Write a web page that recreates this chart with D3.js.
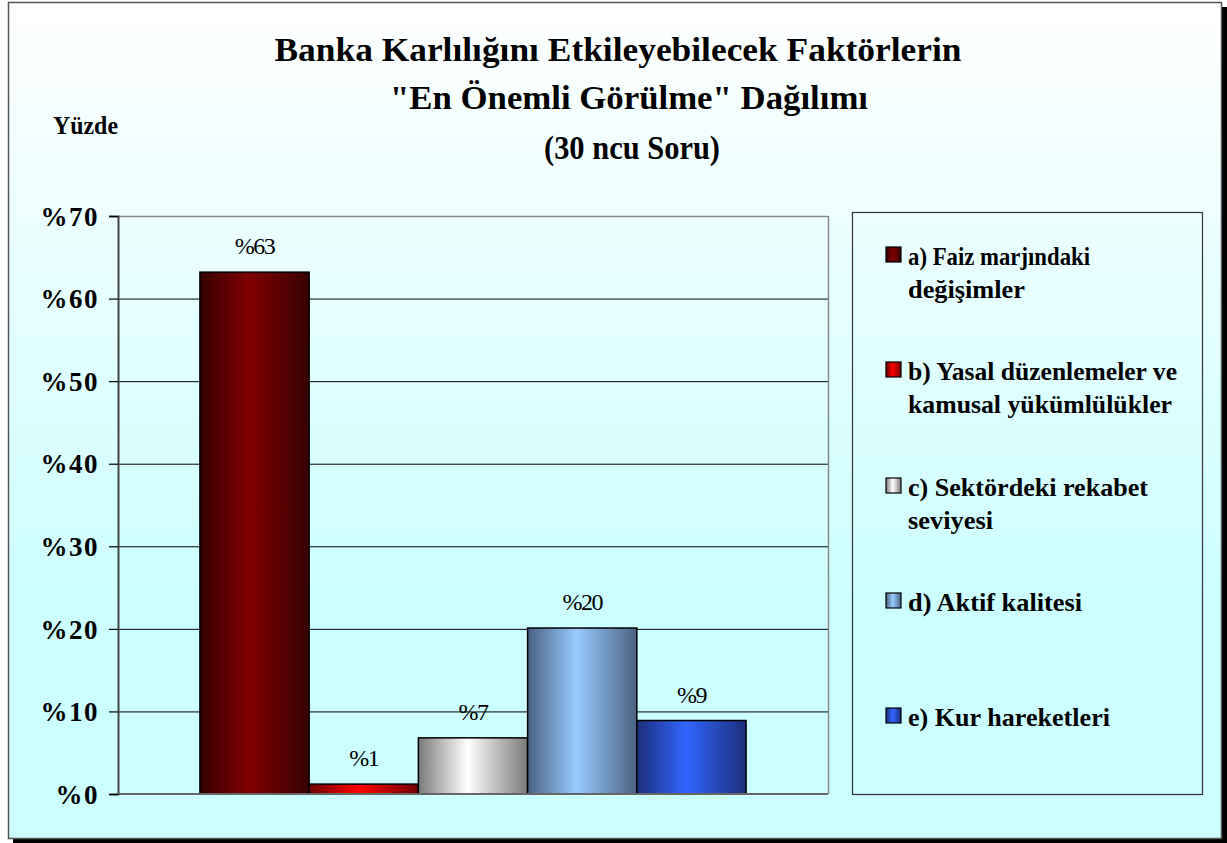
<!DOCTYPE html>
<html>
<head>
<meta charset="utf-8">
<script src="https://cdn.jsdelivr.net/npm/d3@7"></script>
<style>
  html, body { margin: 0; padding: 0; background: #ffffff; }
  svg { display: block; }
  text { font-family: "Liberation Serif", "Times New Roman", serif; }
</style>
</head>
<body>
<svg id="chart" width="1227" height="843"></svg>
<script>
// ---- data ----
const series = [
  "a) Faiz marjındaki|değişimler",
  "b) Yasal düzenlemeler ve|kamusal yükümlülükler",
  "c) Sektördeki rekabet|seviyesi",
  "d) Aktif kalitesi",
  "e) Kur hareketleri"
];
const values = [63.2, 1.2, 6.8, 20.1, 8.9];
const valueLabels = ["%63", "%1", "%7", "%20", "%9"];
const yTicks = [0, 10, 20, 30, 40, 50, 60, 70];
const titleLines = [
  "Banka Karlılığını Etkileyebilecek Faktörlerin",
  "\"En Önemli Görülme\" Dağılımı",
  "(30 ncu Soru)"
];
const yAxisTitle = "Yüzde";

// ---- styles (gradient stops: edge, middle, edge) ----
const barColors = [
  ["#360000", "#800000", "#360000"],
  ["#700000", "#ff0000", "#700000"],
  ["#7a7a7a", "#ffffff", "#7a7a7a"],
  ["#4a6282", "#99ccff", "#4a6282"],
  ["#1a2e7a", "#3366ff", "#1a2e7a"]
];
// measured line widths of legend text
const legendLineWidths = [[182, 117], [269, 264], [240, 85], [174], [202]];

const svg = d3.select("#chart");
const defs = svg.append("defs");

// background gradient
const bg = defs.append("linearGradient").attr("id", "bg")
  .attr("x1", 0).attr("y1", 0).attr("x2", 0).attr("y2", 1);
bg.append("stop").attr("offset", "0%").attr("stop-color", "#ffffff");
bg.append("stop").attr("offset", "72%").attr("stop-color", "#ccffff");
bg.append("stop").attr("offset", "100%").attr("stop-color", "#ccffff");

barColors.forEach((c, i) => {
  const g = defs.append("linearGradient").attr("id", "bar" + i)
    .attr("x1", 0).attr("y1", 0).attr("x2", 1).attr("y2", 0);
  g.append("stop").attr("offset", "0%").attr("stop-color", c[0]);
  g.append("stop").attr("offset", "45%").attr("stop-color", c[1]);
  g.append("stop").attr("offset", "100%").attr("stop-color", c[2]);
});

// frame with shadow
svg.append("rect").attr("x", 13).attr("y", 7).attr("width", 1214).attr("height", 836).attr("fill", "#000");
svg.append("rect").attr("x", 8.5).attr("y", 2.5).attr("width", 1213).attr("height", 836)
  .attr("fill", "url(#bg)").attr("stroke", "#555").attr("stroke-width", 1.5);

// plot area
const plot = { left: 118, right: 828, top: 216, bottom: 794 };
const y = d3.scaleLinear().domain([0, 70]).range([plot.bottom, plot.top]);
const x = d3.scaleBand().domain(series).range([plot.left, plot.right])
  .paddingInner(0).paddingOuter(0.75);

// gridlines
svg.append("g").selectAll("line").data(yTicks.filter(t => t > 0 && t < 70)).join("line")
  .attr("x1", plot.left).attr("x2", plot.right)
  .attr("y1", d => y(d) + 0.5).attr("y2", d => y(d) + 0.5)
  .attr("stroke", "#000").attr("stroke-width", 1);

// plot border top/right (gray)
svg.append("line").attr("x1", plot.left).attr("x2", plot.right)
  .attr("y1", plot.top + 0.5).attr("y2", plot.top + 0.5).attr("stroke", "#888").attr("stroke-width", 1.5);
svg.append("line").attr("x1", plot.right + 0.5).attr("x2", plot.right + 0.5)
  .attr("y1", plot.top).attr("y2", plot.bottom).attr("stroke", "#888").attr("stroke-width", 1.5);

// bars
svg.append("g").selectAll("rect").data(values).join("rect")
  .attr("x", (d, i) => x(series[i]))
  .attr("width", x.bandwidth())
  .attr("y", d => y(d))
  .attr("height", d => y(0) - y(d))
  .attr("fill", (d, i) => `url(#bar${i})`)
  .attr("stroke", "#000").attr("stroke-width", 1.5);

// bottom axis line
svg.append("line").attr("x1", plot.left).attr("x2", plot.right)
  .attr("y1", plot.bottom).attr("y2", plot.bottom).attr("stroke", "#666").attr("stroke-width", 2);

// y axis
const yAxis = d3.axisLeft(y).tickValues(yTicks).tickSize(9).tickPadding(10)
  .tickFormat(d => "%" + d);
const yg = svg.append("g").attr("transform", `translate(${plot.left},0)`).call(yAxis);
yg.select(".domain").attr("stroke", "#444").attr("stroke-width", 2);
yg.selectAll(".tick line").attr("stroke", "#000").attr("stroke-width", 1.2);
yg.selectAll(".tick text")
  .attr("font-family", "Liberation Serif, Times New Roman, serif")
  .attr("font-size", 27).attr("font-weight", "bold").attr("fill", "#000")
  .attr("dy", "0.34em").attr("letter-spacing", 1.5);

// value labels
svg.append("g").selectAll("text").data(values).join("text")
  .attr("x", (d, i) => x(series[i]) + x.bandwidth() / 2)
  .attr("y", d => y(d) - 18)
  .attr("text-anchor", "middle")
  .attr("font-size", 24).attr("letter-spacing", -1.5).attr("fill", "#000")
  .text((d, i) => valueLabels[i]);

// title
const titleSpecs = [
  { y: 61, w: 687, cx: 618 },
  { y: 109, w: 478, cx: 629 },
  { y: 159, w: 176, cx: 632 }
];
titleLines.forEach((t, i) => {
  const s = titleSpecs[i];
  svg.append("text")
    .attr("x", s.cx - s.w / 2).attr("y", s.y)
    .attr("font-size", 33).attr("font-weight", "bold")
    .attr("textLength", s.w).attr("lengthAdjust", "spacingAndGlyphs")
    .text(t);
});

// y axis title
svg.append("text").attr("x", 53).attr("y", 134)
  .attr("font-size", 26).attr("font-weight", "bold")
  .attr("textLength", 65).attr("lengthAdjust", "spacingAndGlyphs")
  .text(yAxisTitle);

// legend
const legend = { left: 852, top: 212, right: 1202, bottom: 794 };
svg.append("rect").attr("x", legend.left + 0.5).attr("y", legend.top + 0.5)
  .attr("width", legend.right - legend.left).attr("height", legend.bottom - legend.top)
  .attr("fill", "none").attr("stroke", "#333").attr("stroke-width", 1.2);

const legendBaselines = [265, 380, 496, 611, 726];
const lg = svg.append("g").selectAll("g").data(series).join("g");
lg.append("rect")
  .attr("x", 886).attr("y", (d, i) => legendBaselines[i] - 18)
  .attr("width", 15).attr("height", 15)
  .attr("fill", (d, i) => `url(#bar${i})`)
  .attr("stroke", "#000").attr("stroke-width", 1.2);
lg.each(function (d, i) {
  const parts = d.split("|");
  parts.forEach((p, j) => {
    d3.select(this).append("text")
      .attr("x", 908).attr("y", legendBaselines[i] + j * 33)
      .attr("font-size", 25).attr("font-weight", "bold")
      .attr("textLength", legendLineWidths[i][j]).attr("lengthAdjust", "spacingAndGlyphs")
      .text(p);
  });
});
</script>
</body>
</html>
